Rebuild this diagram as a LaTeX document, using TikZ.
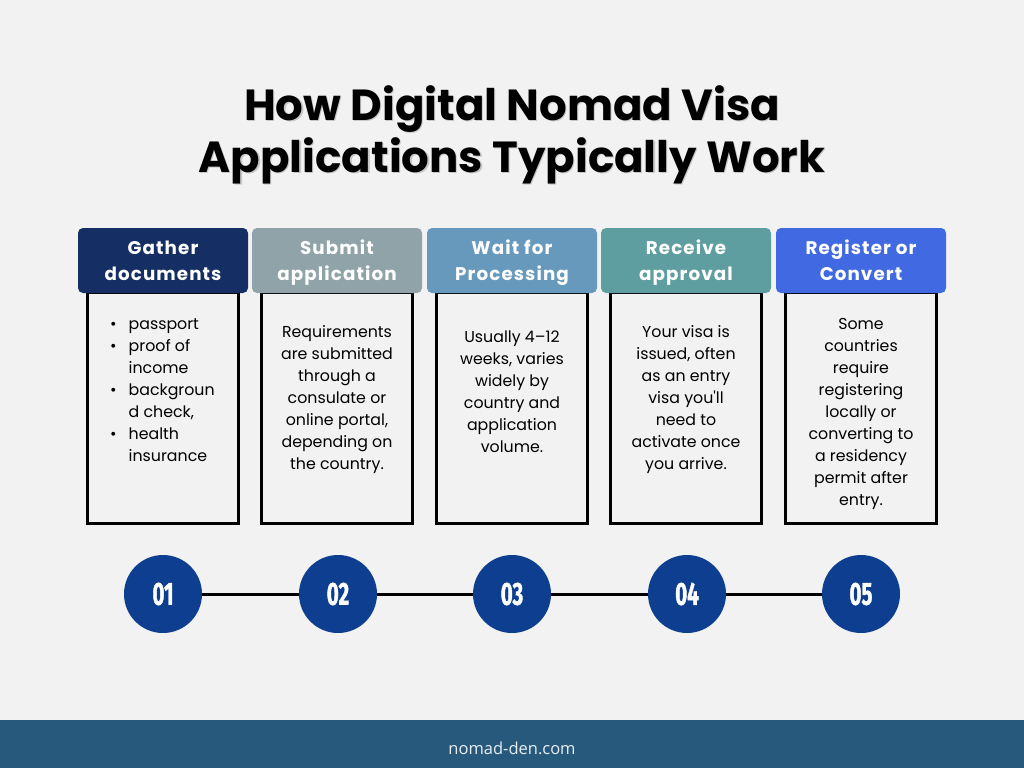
\documentclass[tikz,border=0pt]{standalone}
\usepackage{fontspec}
\usepackage{xcolor}
\setmainfont{Poppins}
\newfontfamily\headfont[LetterSpace=6]{Poppins}
\newfontfamily\numfont[FakeStretch=0.64, FakeBold=1.2]{Fira Sans}
\newfontfamily\footfont{Open Sans}
\usetikzlibrary{positioning}
\definecolor{bgGray}{RGB}{242,242,242}
\definecolor{gatherNavy}{RGB}{21,46,99}
\definecolor{submitGray}{RGB}{143,163,168}
\definecolor{waitBlue}{RGB}{102,153,187}
\definecolor{receiveTeal}{RGB}{95,158,160}
\definecolor{registerBlue}{RGB}{65,105,225}
\definecolor{numBlue}{RGB}{13,62,143}
\definecolor{footBlue}{RGB}{39,89,124}
\definecolor{footText}{RGB}{232,238,242}

\begin{document}
\begin{tikzpicture}[x=1pt, y=1pt,
    headbox/.style={rounded corners=5pt, minimum width=170pt, minimum height=65pt, inner sep=0pt},
    headlabel/.style={inner sep=0pt, text=white, align=center,
        font=\headfont\bfseries\fontsize{18.3}{26}\selectfont,
        execute at begin node=\strut, execute at end node=\strut},
    bodybox/.style={draw=black, line width=3pt, minimum width=151pt, minimum height=230.5pt, inner sep=0pt},
    bodytext/.style={anchor=north, inner sep=0pt, align=center, font=\fontsize{15.8}{22}\selectfont,
        execute at begin node=\strut},
    numdot/.style={circle, fill=numBlue, minimum size=78pt, inner sep=0pt, text=white,
        font=\numfont\bfseries\fontsize{32}{32}\selectfont},
    titleline/.style={anchor=base, inner sep=0pt, font=\bfseries\fontsize{43.5}{52}\selectfont}]

    % Canvas
    \fill[bgGray] (0,0) rectangle (1024,-768);
    \useasboundingbox (0,0) rectangle (1024,-768);

    % Title
    \node[titleline, text=black!22] at (513.2,-121.2) {How Digital Nomad Visa};
    \node[titleline, text=black!22] at (513.2,-173.2) {Applications Typically Work};
    \node[titleline] (title1) at (512,-120) {How Digital Nomad Visa};
    \node[titleline] (title2) at (512,-172) {Applications Typically Work};

    % Step bodies
    \node[bodybox] (body1) at (163,-408) {};
    \node[bodybox] (body2) at (337,-408) {};
    \node[bodybox] (body3) at (512,-408) {};
    \node[bodybox] (body4) at (686,-408) {};
    \node[bodybox] (body5) at (861,-408) {};

    % Step headers
    \node[headbox, fill=gatherNavy] (head1) at (163,-260.5) {};
    \node[headbox, fill=submitGray] (head2) at (337,-260.5) {};
    \node[headbox, fill=waitBlue] (head3) at (512,-260.5) {};
    \node[headbox, fill=receiveTeal] (head4) at (686,-260.5) {};
    \node[headbox, fill=registerBlue] (head5) at (861,-260.5) {};
    \node[headlabel] (label1) at ([yshift=-4pt]head1.center) {Gather\\documents};
    \node[headlabel] (label2) at ([yshift=-4pt]head2.center) {Submit\\application};
    \node[headlabel] (label3) at ([yshift=-4pt]head3.center) {Wait for\\Processing};
    \node[headlabel] (label4) at ([yshift=-4pt]head4.center) {Receive\\approval};
    \node[headlabel] (label5) at ([yshift=-4pt]head5.center) {Register or\\Convert};

    % Step texts
    \node[anchor=north west, inner sep=0pt, font=\fontsize{15.8}{22}\selectfont] (text1) at (110,-313.6)
        {\begin{tabular}{@{}l@{\hspace{12pt}}l@{}}
            \textbullet & passport\\
            \textbullet & proof of\\
                        & income\\
            \textbullet & backgroun\\
                        & d check,\\
            \textbullet & health\\
                        & insurance
        \end{tabular}};
    \node[bodytext] (text2) at (337,-325.6)
        {Requirements\\are submitted\\through a\\consulate or\\online portal,\\depending on\\the country.};
    \node[bodytext] (text3) at (512,-330.6)
        {Usually 4--12\\weeks, varies\\widely by\\country and\\application\\volume.};
    \node[bodytext] (text4) at (686,-325.6)
        {Your visa is\\issued, often\\as an entry\\visa you\textquotesingle ll\\need to\\activate once\\you arrive.};
    \node[bodytext] (text5) at (861,-318.6)
        {Some\\countries\\require\\registering\\locally or\\converting to\\a residency\\permit after\\entry.};

    % Timeline
    \node[numdot] (num1) at (163,-594) {01};
    \node[numdot] (num2) at (338,-594) {02};
    \node[numdot] (num3) at (512,-594) {03};
    \node[numdot] (num4) at (687,-594) {04};
    \node[numdot] (num5) at (861,-594) {05};
    \foreach \a/\b in {num1/num2, num2/num3, num3/num4, num4/num5}
        \draw[line width=3pt] (\a) -- (\b);

    % Footer
    \fill[footBlue] (0,-720) rectangle (1024,-768);
    \node[text=footText, font=\footfont\fontsize{16.5}{20}\selectfont] (footer) at (512,-748) {nomad-den.com};
\end{tikzpicture}
\end{document}
